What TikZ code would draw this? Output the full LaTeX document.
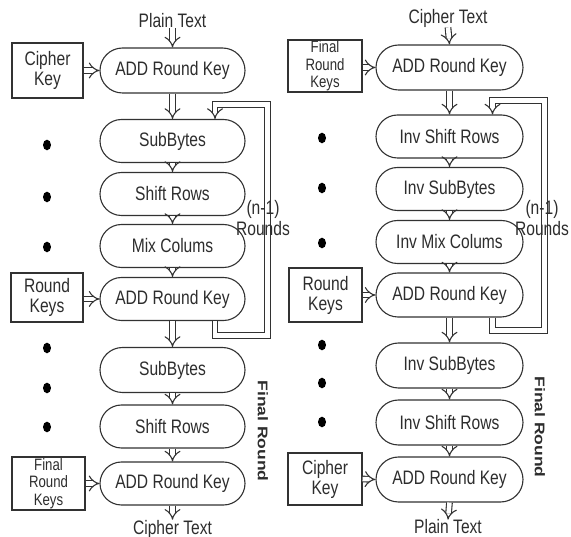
\documentclass[tikz,border=0pt]{standalone}
\usepackage{fontspec}
\setmainfont{Liberation Sans}[FakeStretch=0.8]
\newfontfamily\plainsans{Liberation Sans}
\usetikzlibrary{shapes.misc,arrows.meta,calc}
\definecolor{linec}{RGB}{50,50,50}
\definecolor{txt}{RGB}{45,45,45}
\begin{document}
\begin{tikzpicture}[x=1pt,y=-1pt,
  stage/.style={rounded rectangle, draw=linec, line width=1.1pt, minimum width=145pt, minimum height=43pt, inner sep=0pt, font=\fontsize{19.5}{21}\selectfont, text=txt},
  keybox/.style={rectangle, draw=linec, line width=1.1pt, inner sep=0pt, align=center, font=\fontsize{19.5}{20}\selectfont, text=txt},
  smallkey/.style={font=\fontsize{16.5}{17.5}\selectfont},
  lbl/.style={font=\fontsize{19.5}{21}\selectfont, text=txt, inner sep=0pt},
  rounds/.style={font=\fontsize{19.5}{21}\selectfont, text=txt, inner sep=0pt, align=center},
  finalr/.style={font=\plainsans\fontsize{17.5}{18}\selectfont\bfseries, text=txt, inner sep=0pt, rotate=-90},
  dbl/.style={draw=linec, line width=1.1pt, double=white, double distance=4.5pt, -{Implies}}
]
\fill[white] (0,0) rectangle (571,537);
\useasboundingbox (0,0) rectangle (571,537);

% ---------- left column ----------
\node[lbl] (lpt) at (172.5,21) {Plain Text};
\node[stage, minimum height=45pt] (l1) at (172.5,70.5) {ADD Round Key};
\node[stage] (l2) at (172.5,141) {SubBytes};
\node[stage] (l3) at (172.5,194) {Shift Rows};
\node[stage] (l4) at (172.5,246) {Mix Colums};
\node[stage] (l5) at (172.5,299) {ADD Round Key};
\node[stage, minimum height=45pt] (l6) at (172.5,370) {SubBytes};
\node[stage] (l7) at (172.5,426.5) {Shift Rows};
\node[stage] (l8) at (172.5,483.5) {ADD Round Key};
\node[lbl] (lct) at (172.5,529) {Cipher Text};

\node[keybox, minimum width=71pt, minimum height=55pt] (lk1) at (47.5,70.5) {Cipher\\Key};
\node[keybox, minimum width=72pt, minimum height=49pt] (lk2) at (47,297.5) {Round\\Keys};
\node[keybox, smallkey, minimum width=73pt, minimum height=53pt] (lk3) at (48.5,483.5) {Final\\Round\\Keys};

\draw[dbl] (lpt.south) -- (l1.north);
\draw[dbl] (l1.south) -- (l2.north);
\draw[dbl] (l2.south) -- (l3.north);
\draw[dbl] (l3.south) -- (l4.north);
\draw[dbl] (l4.south) -- (l5.north);
\draw[dbl] (l5.south) -- (l6.north);
\draw[dbl] (l6.south) -- (l7.north);
\draw[dbl] (l7.south) -- (l8.north);
\draw[dbl] (l8.south) -- (lct.north);

\draw[dbl] (lk1.east) -- (l1.west);
\draw[dbl] (l5.west -| lk2.east) -- (l5.west);
\draw[dbl] (lk3.east) -- (l8.west);

\coordinate (lb) at (267.5,335.5);
\coordinate (lt) at (267.5,104.5);
\draw[dbl] ([xshift=42.5pt]l5.south) |- (lb) -- (lt) -| ([xshift=42.5pt]l2.north);

\node[rounds] (lr) at (263,218) {(n-1)\\Rounds};
\node[finalr] (lf) at (263,431) {\scalebox{1}[0.8]{Final Round}};

\foreach \yy in {145,197,247,348,388,427}
  \fill[black] (47,\yy) ellipse [x radius=4pt, y radius=5.3pt];

% ---------- right column ----------
\node[lbl] (rct) at (448,18) {Cipher Text};
\node[stage, minimum width=147pt, minimum height=45pt] (r1) at (449.5,67.5) {ADD Round Key};
\node[stage, minimum width=147pt] (r2) at (449.5,136.5) {Inv Shift Rows};
\node[stage, minimum width=147pt] (r3) at (449.5,189) {Inv SubBytes};
\node[stage, minimum width=147pt] (r4) at (449.5,242) {Inv Mix Colums};
\node[stage, minimum width=147pt, minimum height=44pt] (r5) at (449.5,295) {ADD Round Key};
\node[stage, minimum width=147pt, minimum height=45pt] (r6) at (449.5,365.5) {Inv SubBytes};
\node[stage, minimum width=147pt, minimum height=45pt] (r7) at (449.5,422.5) {Inv Shift Rows};
\node[stage, minimum width=147pt, minimum height=45pt] (r8) at (449.5,479.5) {ADD Round Key};
\node[lbl] (rpt) at (448,527) {Plain Text};

\node[keybox, smallkey, minimum width=74pt, minimum height=52pt] (rk1) at (325,66) {Final\\Round\\Keys};
\node[keybox, minimum width=73pt, minimum height=54pt] (rk2) at (325.5,295) {Round\\Keys};
\node[keybox, minimum width=74pt, minimum height=52pt] (rk3) at (325,479) {Cipher\\Key};

\draw[dbl] (rct.south) -- (r1.north);
\draw[dbl] (r1.south) -- (r2.north);
\draw[dbl] (r2.south) -- (r3.north);
\draw[dbl] (r3.south) -- (r4.north);
\draw[dbl] (r4.south) -- (r5.north);
\draw[dbl] (r5.south) -- (r6.north);
\draw[dbl] (r6.south) -- (r7.north);
\draw[dbl] (r7.south) -- (r8.north);
\draw[dbl] (r8.south) -- (rpt.north);

\draw[dbl] (r1.west -| rk1.east) -- (r1.west);
\draw[dbl] (rk2.east) -- (r5.west);
\draw[dbl] (rk3.east) -- (r8.west);

\coordinate (rb) at (544.5,330.5);
\coordinate (rt) at (544.5,100.5);
\draw[dbl] ([xshift=43pt]r5.south) |- (rb) -- (rt) -| ([xshift=43pt]r2.north);

\node[rounds] (rr) at (542,218) {(n-1)\\Rounds};
\node[finalr] (rf) at (540,427) {\scalebox{1}[0.8]{Final Round}};

\foreach \yy in {138,188,243,345,383,422}
  \fill[black] (322,\yy) ellipse [x radius=4pt, y radius=5.3pt];
\end{tikzpicture}
\end{document}
